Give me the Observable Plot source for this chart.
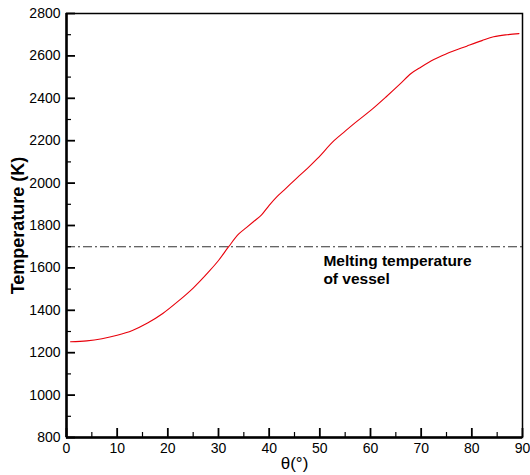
<!DOCTYPE html>
<html><head><meta charset="utf-8">
<script src="https://cdn.jsdelivr.net/npm/d3@7"></script>
<script src="https://cdn.jsdelivr.net/npm/@observablehq/plot@0.6"></script>
<style>body{margin:0;background:#fff}</style>
</head><body><div id="chart"></div>
<script>
const theta = [0.8, 4, 7, 10, 13, 16, 19, 22, 25, 28, 30, 32, 34, 35.5, 37, 38.5, 40, 41.5, 43, 45.5, 47.5, 49.5, 52.8, 55, 57, 60.4, 63, 65.9, 68, 70, 72.5, 75, 79, 82, 84.3, 87, 89.3];
const temperature = [1252, 1256, 1266, 1282, 1305, 1340, 1385, 1442, 1505, 1580, 1635, 1700, 1760, 1790, 1820, 1850, 1895, 1935, 1968, 2025, 2068, 2115, 2200, 2245, 2285, 2350, 2405, 2469, 2517, 2548, 2583, 2610, 2646, 2672, 2690, 2700, 2705];
const xMajor = [0, 10, 20, 30, 40, 50, 60, 70, 80, 90];
const xMinor = [5, 15, 25, 35, 45, 55, 65, 75, 85];
const yMajor = [800, 1000, 1200, 1400, 1600, 1800, 2000, 2200, 2400, 2600, 2800];
const yMinor = [900, 1100, 1300, 1500, 1700, 1900, 2100, 2300, 2500, 2700];
const meltingTemp = 1700;
const annotation = "Melting temperature\nof vessel";
const xTitle = "θ(°)";
const yTitle = "Temperature (K)";

const data = theta.map((t, i) => ({theta: t, T: temperature[i]}));
const xMin = 0, yMin = 800;

const chart = Plot.plot({
  width: 530, height: 475,
  marginLeft: 66, marginRight: 8, marginTop: 13, marginBottom: 38,
  style: {fontFamily: "Arial, 'Liberation Sans', sans-serif", fontSize: "14px", background: "#fff"},
  x: {domain: [0, 90]},
  y: {domain: [800, 2800]},
  marks: [
    Plot.ruleY([meltingTemp], {stroke: "#333", strokeWidth: 1.1, strokeDasharray: "9,3,2,3"}),
    Plot.line(data, {x: "theta", y: "T", stroke: "#e8000b", strokeWidth: 1.1, curve: "monotone-x"}),
    Plot.text([annotation], {x: [50.7], y: [1668], text: d => d, textAnchor: "start", lineAnchor: "top", lineHeight: 1.15, fontWeight: "bold", fontSize: 15.5, fill: "black"}),
    Plot.frame({stroke: "black", strokeWidth: 1.5}),
    Plot.ruleX([xMin], {stroke: "black", strokeWidth: 2.5}),
    Plot.ruleY([yMin], {stroke: "black", strokeWidth: 2.5}),
    Plot.axisX(xMajor, {tickSize: -9, stroke: "black", strokeWidth: 1.8, text: null, label: null}),
    Plot.axisX(xMinor, {tickSize: -5, stroke: "black", strokeWidth: 1.2, text: null, label: null}),
    Plot.axisY(yMajor, {tickSize: -9, stroke: "black", strokeWidth: 1.8, text: null, label: null}),
    Plot.axisY(yMinor, {tickSize: -5, stroke: "black", strokeWidth: 1.2, text: null, label: null}),
    Plot.axisX(xMajor, {tickSize: 0, tickPadding: 6, fontSize: 14, fill: "black", label: null, tickFormat: "d"}),
    Plot.axisY(yMajor, {tickSize: 0, tickPadding: 6, fontSize: 14, fill: "black", label: null, tickFormat: "d"}),
    Plot.text([xTitle], {frameAnchor: "bottom", dy: 31, fontSize: 17, text: d => d, fill: "black"}),
    Plot.text([yTitle], {frameAnchor: "left", dx: -48, rotate: -90, textAnchor: "middle", fontSize: 18, fontWeight: "bold", text: d => d, fill: "black"})
  ]
});
document.getElementById("chart").append(chart);
</script>
</body></html>
